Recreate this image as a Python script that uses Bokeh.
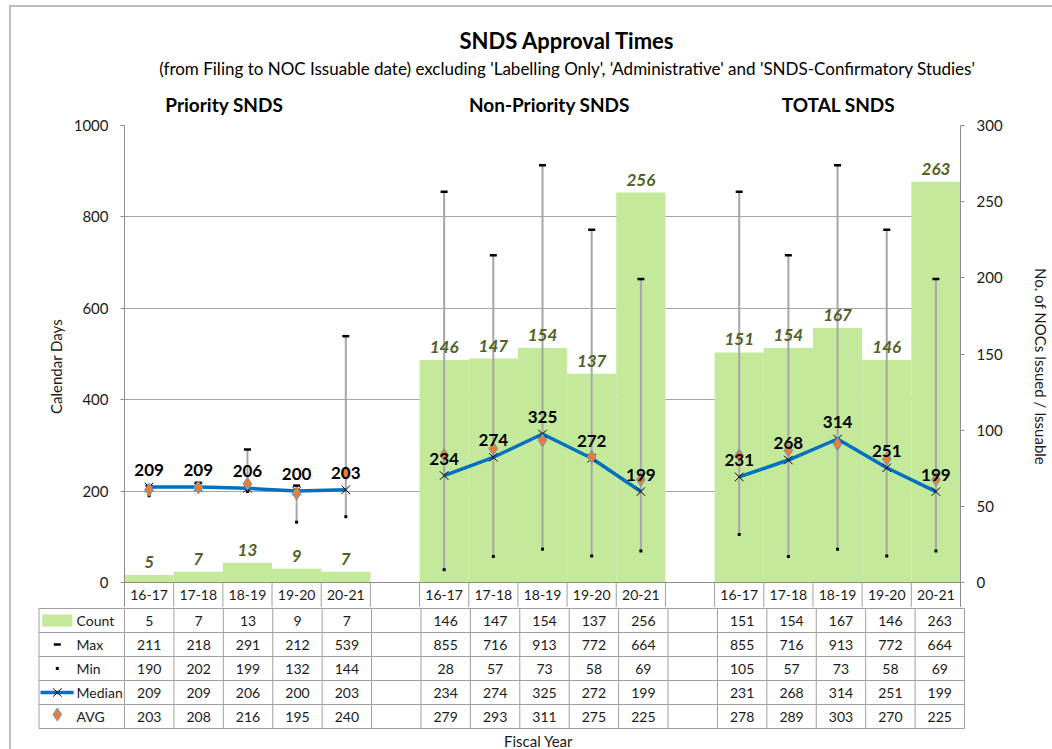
from bokeh.plotting import figure
from bokeh.models import Range1d, LinearAxis, FixedTicker
from bokeh.layouts import column
from bokeh.embed import file_html
from bokeh.resources import INLINE
from bokeh.core.properties import value

# ---------------- data ----------------
categories = ["16-17", "17-18", "18-19", "19-20", "20-21"]
groups = ["Priority SNDS", "Non-Priority SNDS", "TOTAL SNDS"]

count_priority = [5, 7, 13, 9, 7]
count_nonpriority = [146, 147, 154, 137, 256]
count_total = [151, 154, 167, 146, 263]

max_priority = [211, 218, 291, 212, 539]
max_nonpriority = [855, 716, 913, 772, 664]
max_total = [855, 716, 913, 772, 664]

min_priority = [190, 202, 199, 132, 144]
min_nonpriority = [28, 57, 73, 58, 69]
min_total = [105, 57, 73, 58, 69]

median_priority = [209, 209, 206, 200, 203]
median_nonpriority = [234, 274, 325, 272, 199]
median_total = [231, 268, 314, 251, 199]

avg_priority = [203, 208, 216, 195, 240]
avg_nonpriority = [279, 293, 311, 275, 225]
avg_total = [278, 289, 303, 270, 225]

left_ticks = [0, 200, 400, 600, 800, 1000]
right_ticks = [0, 50, 100, 150, 200, 250, 300]

title_text = "SNDS Approval Times"
subtitle_text = ("(from Filing to NOC Issuable date) excluding 'Labelling Only', "
                 "'Administrative' and 'SNDS-Confirmatory Studies'")

counts = [count_priority, count_nonpriority, count_total]
maxs = [max_priority, max_nonpriority, max_total]
mins = [min_priority, min_nonpriority, min_total]
medians = [median_priority, median_nonpriority, median_total]
avgs = [avg_priority, avg_nonpriority, avg_total]

# ---------------- style ----------------
FONT = "Lato"
GREEN = "#C4E99A"
LABEL_GREEN = "#4F6228"
BLUE = "#0070C0"
ORANGE = "#ED7D31"
EDGE = "#5B9BD5"
GRID = "#A6A6A6"
AXIS = "#8C8C8C"
LINE = "#A0A0A0"
TXT = "#1A1A1A"

OX, OY = 11, 7                 # where the bordered chart area starts on the page
W = 1052 - OX
N_SLOTS = 17
PPU = 840.0 / N_SLOTS          # pixels per category slot
PX_Y = 457.0 / 1000            # pixels per calendar day
group_starts = [0, 6, 12]


def xs(g):
    return [group_starts[g] + i + 0.5 for i in range(len(categories))]


# ---------------- header (titles) ----------------
HH = 115 - OY
h = figure(width=W, height=HH, x_range=Range1d(-(124 - OX) / PPU, (1052 - 124) / PPU),
           y_range=Range1d(HH, 0), output_backend="svg", toolbar_location=None,
           min_border=0, x_axis_location=None, y_axis_location=None, frame_align=False)
h.outline_line_color = None
h.grid.visible = False
h.text(x=[8.96], y=[40 - OY], text=[title_text], text_font=value(FONT), text_font_size="22px",
       text_font_style="bold", text_color="black", text_align="center", text_baseline="middle")
h.text(x=[8.96], y=[68 - OY], text=[subtitle_text], text_font=value(FONT), text_font_size="17px",
       text_color="black", text_align="center", text_baseline="middle")
group_title_x = [2.02, 8.6, 14.45]
h.text(x=group_title_x, y=[104 - OY] * 3, text=groups, text_font=value(FONT), text_font_size="19px",
       text_font_style="bold", text_color="black", text_align="center", text_baseline="middle")

# ---------------- chart figure ----------------
HDR = 25  # header row (category labels) height in px, inside the chart frame
y_lo = -HDR / PX_Y
PH = 10 + 457 + HDR
p = figure(width=W, height=PH, x_range=Range1d(0, N_SLOTS), y_range=Range1d(y_lo, 1000),
           output_backend="svg", toolbar_location=None,
           min_border_left=124 - OX, min_border_right=W - (124 - OX) - 840,
           min_border_top=10, min_border_bottom=0,
           x_axis_location=None, y_axis_location="left", frame_align=False)
p.extra_y_ranges = {"cnt": Range1d(y_lo * 0.3, 300)}
p.outline_line_color = None

ya = p.yaxis[0]
ya.ticker = FixedTicker(ticks=left_ticks)
ya.axis_label = "Calendar Days"
ya.bounds = (y_lo, 1000)
ry = LinearAxis(y_range_name="cnt", ticker=FixedTicker(ticks=right_ticks),
                axis_label="No. of NOCs Issued / Issuable", bounds=(y_lo * 0.3, 300))
p.add_layout(ry, "right")
for ax in (ya, ry):
    ax.axis_line_color = AXIS
    ax.major_tick_line_color = AXIS
    ax.minor_tick_line_color = None
    ax.major_tick_in = 0
    ax.major_tick_out = 4
    ax.major_label_text_font = FONT
    ax.major_label_text_font_size = "15px"
    ax.major_label_text_color = TXT
    ax.axis_label_text_font = FONT
    ax.axis_label_text_font_size = "15px"
    ax.axis_label_text_font_style = "normal"
    ax.axis_label_text_color = TXT
ya.major_label_standoff = 12
ya.axis_label_standoff = 6
ry.major_label_standoff = 12
ry.axis_label_standoff = 26

p.xgrid.visible = False
p.ygrid.ticker = FixedTicker(ticks=[200, 400, 600, 800, 1000])
p.ygrid.grid_line_color = GRID
p.ygrid.grid_line_width = 1

# header row of the data table (category labels), drawn under the zero line
vx = list(range(1, N_SLOTS))
p.segment(x0=vx, y0=[0] * len(vx), x1=vx, y1=[y_lo] * len(vx), line_color=LINE, line_width=1)
hx, ht = [], []
for g in range(3):
    hx += xs(g)
    ht += categories
p.text(x=hx, y=[y_lo / 2] * len(hx), text=ht, text_font=value(FONT), text_font_size="14px",
       text_color=TXT, text_align="center", text_baseline="middle")

for g in range(3):
    p.vbar(x=xs(g), top=counts[g], bottom=0, width=1.0, y_range_name="cnt",
           fill_color=GREEN, line_color=None)
p.segment(x0=[0], y0=[0], x1=[N_SLOTS], y1=[0], line_color=AXIS, line_width=1)
for g in range(3):
    x = xs(g)
    p.segment(x0=x, y0=mins[g], x1=x, y1=maxs[g], line_color=GRID, line_width=2)
    p.scatter(x=x, y=maxs[g], marker="dash", size=7, line_color="black", line_width=2.5)
    p.scatter(x=x, y=mins[g], marker="square", size=3, fill_color="black", line_color=None)
    p.line(x=x, y=medians[g], line_color=BLUE, line_width=3.5)
    p.scatter(x=x, y=medians[g], marker="x", size=12, line_color="black", line_width=1)
    p.scatter(x=x, y=avgs[g], marker="diamond", size=13, fill_color=ORANGE,
              line_color=EDGE, line_width=1)
    p.text(x=x, y=medians[g], text=[str(v) for v in medians[g]],
           text_font=value(FONT), text_font_style="bold", text_font_size="17px",
           text_color="black", text_align="center", text_baseline="bottom", y_offset=-11)
    p.text(x=x, y=counts[g], text=[str(v) for v in counts[g]], y_range_name="cnt",
           text_font=value(FONT), text_font_style="bold italic", text_font_size="17px",
           text_color=LABEL_GREEN, text_align="center", text_baseline="bottom", y_offset=-7)

# ---------------- data table figure ----------------
TH = 749 - OY - HH - PH
tx0 = -(124 - 37) / PPU
tx1 = N_SLOTS + 2 / PPU
t = figure(width=W, height=TH, x_range=Range1d(tx0, tx1), y_range=Range1d(TH - 1, -1),
           output_backend="svg", toolbar_location=None,
           min_border_left=37 - OX, min_border_right=W - (37 - OX) - 929,
           min_border_top=0, min_border_bottom=0,
           x_axis_location=None, y_axis_location=None, frame_align=False)
t.outline_line_color = None
t.grid.visible = False

rh = 24.0
nrows = 5
leg_left = -(124 - 38.5) / PPU
vx = list(range(0, N_SLOTS + 1))
t.segment(x0=vx, y0=[0] * len(vx), x1=vx, y1=[rh * nrows] * len(vx), line_color=LINE, line_width=1)
t.segment(x0=[leg_left], y0=[0], x1=[leg_left], y1=[rh * nrows], line_color=LINE, line_width=1)
hy = [rh * k for k in range(0, nrows + 1)]
t.segment(x0=[leg_left] * len(hy), y0=hy, x1=[N_SLOTS] * len(hy), y1=hy, line_color=LINE, line_width=1)

row_names = ["Count", "Max", "Min", "Median", "AVG"]
row_data = [counts, maxs, mins, medians, avgs]
for r, (name, dat) in enumerate(zip(row_names, row_data)):
    yc = rh * (r + 0.5)
    vxs, vts = [], []
    for g in range(3):
        vxs += xs(g)
        vts += [str(v) for v in dat[g]]
    t.text(x=vxs, y=[yc] * len(vxs), text=vts, text_font=value(FONT), text_font_size="14px",
           text_color=TXT, text_align="center", text_baseline="middle")
    t.text(x=[-0.97], y=[yc], text=[name], text_font=value(FONT), text_font_size="14px",
           text_color=TXT, text_align="left", text_baseline="middle")

kx = -1.36
t.rect(x=[kx], y=[rh * 0.5], width=0.61, height=12, fill_color=GREEN, line_color=None)
t.scatter(x=[kx], y=[rh * 1.5], marker="dash", size=7, line_color="black", line_width=2.5)
t.scatter(x=[kx], y=[rh * 2.5], marker="square", size=3, fill_color="black", line_color=None)
t.line(x=[-1.70, -1.03], y=[rh * 3.5, rh * 3.5], line_color=BLUE, line_width=3.5)
t.scatter(x=[kx], y=[rh * 3.5], marker="x", size=12, line_color="black", line_width=1)
t.scatter(x=[kx], y=[rh * 4.5 - 2], marker="diamond", size=13, fill_color=ORANGE,
          line_color=EDGE, line_width=1)

t.text(x=[8.38], y=[rh * nrows + 3], text=["Fiscal Year"], text_font=value(FONT),
       text_font_size="15px", text_color=TXT, text_align="center", text_baseline="top")

layout = column(h, p, t, spacing=0,
                styles={"border-left": "2px solid #BDBDBD", "border-top": "2px solid #BDBDBD",
                        "margin-left": f"{OX - 2}px", "margin-top": f"{OY - 2}px"})

open("out.html", "w").write(file_html(layout, INLINE))
